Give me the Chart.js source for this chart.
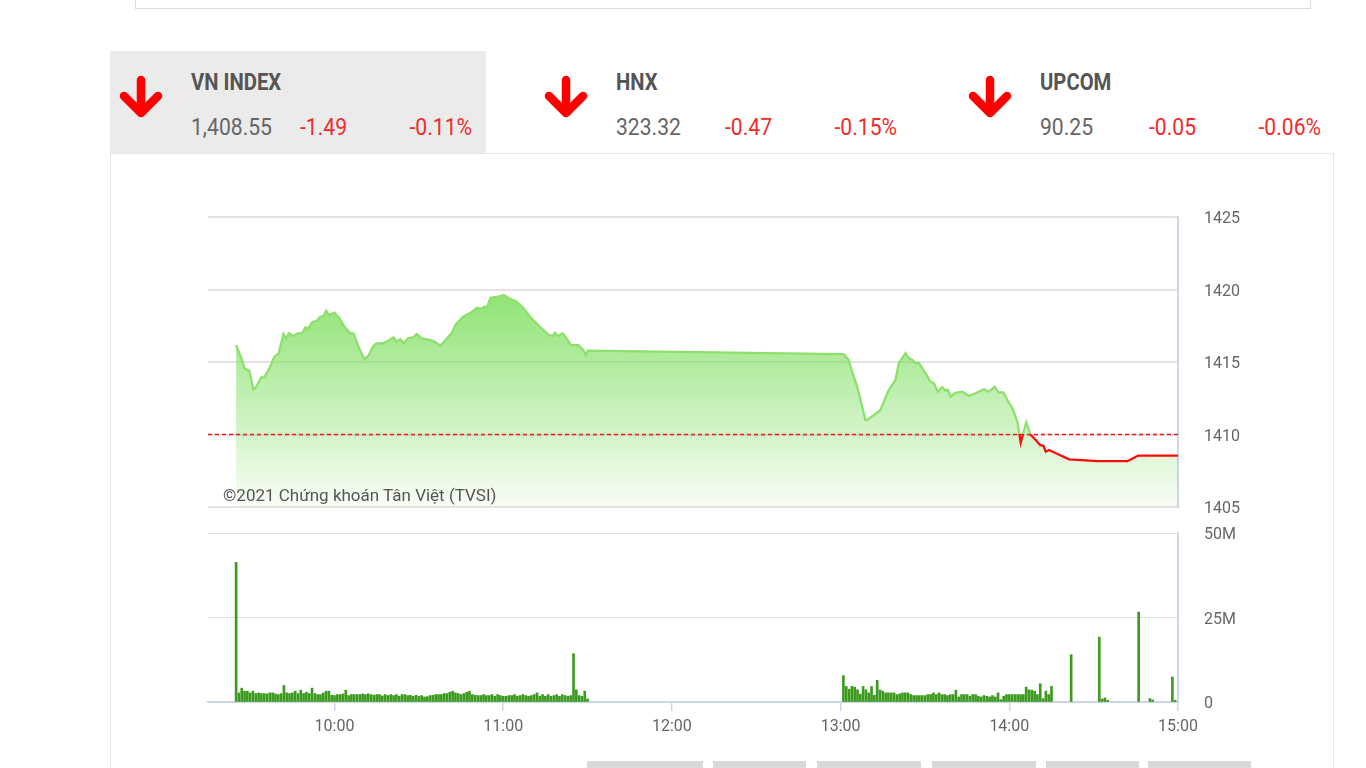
<!DOCTYPE html>
<html lang="vi">
<head>
<meta charset="utf-8">
<title>VN INDEX</title>
<script src="https://cdn.jsdelivr.net/npm/chart.js@4.4.1/dist/chart.umd.min.js"></script>
<style>
  html, body { margin: 0; padding: 0; background: #fff; }
  body { width: 1366px; height: 768px; overflow: hidden; position: relative; font-family: Roboto, "Noto Sans", sans-serif; }
  .topbar { position: absolute; left: 135px; top: -2px; width: 1174px; height: 10px; border: 1px solid #dcdcdc; border-top: none; }
  .tab { position: absolute; top: 51px; width: 376px; height: 102px; }
  .tab.active { background: #ebebeb; }
  .tab svg { position: absolute; left: 9px; top: 23px; }
  .tab span { position: absolute; white-space: nowrap; height: 28px; line-height: 28px; transform: scaleX(0.88); transform-origin: left center; }
  .tab .name { left: 81px; top: 18px; font-size: 23px; font-weight: 700; color: #555; }
  .tab .val { left: 81px; top: 62px; font-size: 24px; color: #666; }
  .tab .chg { left: 190px; top: 62px; font-size: 24px; color: #ef2b2b; }
  .tab .pct { right: 14px; top: 62px; font-size: 24px; color: #ef2b2b; transform-origin: right center; }
  .card { position: absolute; left: 110px; top: 153px; width: 1224px; height: 640px; border: 1px solid #e6e6e6; box-sizing: border-box; }
  canvas { position: absolute; left: 0; }
  #priceChart { top: 200px; }
  #volChart { top: 520px; }
  .credit { position: absolute; left: 223px; top: 484px; font-size: 17px; line-height: 22px; color: #555; }
  .btn { position: absolute; top: 761px; height: 10px; background: #d9d9d9; }
</style>
</head>
<body>
<div class="topbar"></div>
<div id="tabs"></div>
<div class="card"></div>
<canvas id="priceChart" width="1366" height="320"></canvas>
<canvas id="volChart" width="1366" height="220"></canvas>
<div class="credit">©2021 Chứng khoán Tân Việt (TVSI)</div>
<div class="btn" style="left:587px;width:116px"></div>
<div class="btn" style="left:713px;width:93px"></div>
<div class="btn" style="left:817px;width:104px"></div>
<div class="btn" style="left:932px;width:104px"></div>
<div class="btn" style="left:1046px;width:93px"></div>
<div class="btn" style="left:1148px;width:103px"></div>
<script>
// index summary
const indexNames = ['VN INDEX', 'HNX', 'UPCOM'];
const indexValues = ['1,408.55', '323.32', '90.25'];
const indexChanges = ['-1.49', '-0.47', '-0.05'];
const indexPercents = ['-0.11%', '-0.15%', '-0.06%'];

// price line (VN INDEX intraday)
const refLevel = 1410;
const priceTimes = [
  '09:25:00','09:27:20','09:27:56','09:29:43','09:31:08','09:32:06','09:33:53','09:35:04','09:36:50','09:38:37',
  '09:40:09','09:41:50','09:42:47','09:43:43','09:45:23','09:46:55','09:48:29','09:49:40','09:50:29','09:52:03',
  '09:53:41','09:54:54','09:56:05','09:57:03','09:57:58','10:00:00','10:01:47','10:03:34','10:05:36','10:06:46',
  '10:08:18','10:09:52','10:10:41','10:12:13','10:13:39','10:14:52','10:17:13','10:18:59','10:21:01','10:21:59',
  '10:23:25','10:24:35','10:26:07','10:27:54','10:29:19','10:30:53','10:33:51','10:35:38','10:37:40','10:39:11',
  '10:41:35','10:43:07','10:45:43','10:48:43','10:50:42','10:51:40','10:53:26','10:54:03','10:55:28','10:58:11',
  '11:00:13','11:01:45','11:04:44','11:07:05','11:10:05','11:13:02','11:16:00','11:17:34','11:18:23','11:19:34',
  '11:21:08','11:22:33','11:24:05','11:26:41','11:28:28','11:29:19','11:30:00',
  '13:00:00','13:01:06','13:02:53','13:04:06','13:05:53','13:07:40','13:08:50','13:09:26','13:11:47','13:14:11',
  '13:15:22','13:17:08','13:19:31','13:20:42','13:21:55','13:23:05','13:23:55','13:25:28','13:26:39','13:27:49',
  '13:29:02','13:30:13','13:31:59','13:33:10','13:34:35','13:36:10','13:37:20','13:38:10','13:39:07','13:40:54',
  '13:43:17','13:45:38','13:47:25','13:50:59','13:52:46','13:54:48','13:56:07','13:57:53','13:59:19','14:01:06',
  '14:02:53','14:04:04','14:06:01','14:07:37','14:09:24','14:10:56','14:12:09','14:12:58','14:14:08','14:17:08',
  '14:21:16','14:31:23','14:42:05','14:45:51','15:00:00'
];
const priceValues = [
  1416.17,1415.02,1414.57,1414.40,1413.12,1413.26,1413.94,1413.94,1414.57,1415.37,
  1415.60,1416.93,1416.63,1416.98,1416.79,1416.98,1416.98,1417.39,1417.26,1417.74,
  1417.85,1418.12,1418.17,1418.54,1418.24,1418.40,1418.01,1417.43,1416.98,1416.98,
  1416.17,1415.48,1415.19,1415.48,1416.06,1416.29,1416.29,1416.45,1416.70,1416.40,
  1416.57,1416.29,1416.63,1416.70,1416.93,1416.63,1416.52,1416.40,1416.12,1416.45,
  1416.98,1417.60,1418.12,1418.43,1418.74,1418.66,1418.81,1418.66,1419.43,1419.50,
  1419.62,1419.43,1419.16,1418.74,1418.01,1417.43,1416.91,1416.79,1417.02,1416.79,
  1416.98,1416.63,1416.17,1416.17,1415.83,1415.48,1415.78,
  1415.55,1415.55,1415.14,1414.33,1413.30,1411.92,1411.00,1411.00,1411.34,1411.69,
  1412.26,1413.07,1413.76,1414.91,1415.26,1415.60,1415.32,1415.14,1414.91,1414.95,
  1414.57,1414.22,1413.64,1413.53,1412.95,1413.26,1413.02,1413.07,1412.61,1412.88,
  1412.95,1412.66,1412.79,1413.12,1412.95,1413.30,1412.91,1412.91,1412.38,1411.81,
  1410.88,1409.43,1410.84,1409.97,1409.62,1409.28,1409.21,1408.81,1408.93,1408.66,
  1408.29,1408.17,1408.17,1408.55,1408.55
];

// volume, millions of shares per minute
const volMorningStart = '09:25';
const volMorning = [
  41.3,2.7,4.1,3.2,3.2,2.7,3.2,2.5,2.7,2.5,
  2.5,2.4,2.7,2.7,2.4,2.2,2.5,4.9,2.7,2.5,
  2.7,3.2,2.5,3.5,2.5,2.9,2.5,4.1,2.5,2.2,
  2.2,2.7,3.2,3.2,2.0,1.9,2.2,2.2,2.4,3.5,
  1.9,2.2,2.2,2.2,2.2,2.4,2.2,2.4,2.2,2.0,
  2.2,2.2,1.8,2.2,1.9,2.2,1.9,2.2,1.7,2.2,
  2.2,1.9,2.0,1.7,2.0,1.7,1.9,1.5,1.6,1.9,
  2.0,2.2,2.2,2.2,2.5,2.5,2.9,3.2,2.7,2.5,
  2.2,2.5,2.9,3.2,2.2,2.0,1.9,1.9,2.2,1.9,
  1.9,2.2,1.7,2.2,1.9,1.7,1.7,1.9,1.9,2.2,
  1.7,1.9,2.2,1.9,1.7,1.9,2.2,2.7,1.7,2.2,
  1.7,2.2,1.7,1.9,2.2,1.7,2.2,1.9,1.7,1.9,
  14.3,3.6,1.9,1.7,3.2,0.9
];
const volAfternoonStart = '13:01';
const volAfternoon = [
  7.8,4.6,3.8,4.6,4.4,3.6,2.3,4.6,3.6,2.7,
  4.6,2.0,6.4,3.6,3.2,2.7,2.7,2.7,2.7,2.2,
  2.4,2.7,2.7,2.7,2.2,1.9,1.9,1.9,1.9,1.9,
  2.2,2.2,2.7,2.2,2.7,2.2,2.2,1.9,2.2,2.2,
  3.5,1.5,2.2,2.2,2.2,1.7,2.2,2.2,1.7,1.5,
  1.9,1.7,1.5,1.9,1.5,2.7,0.7,1.7,2.2,2.2,
  2.2,2.2,2.2,2.2,2.2,4.4,3.6,3.5,3.2,2.2,
  5.4,1.0,3.2,2.2,4.6
];
const volLateTimes = ['14:22','14:32','14:33','14:34','14:35','14:46','14:50','14:51','14:58','14:59'];
const volLateValues = [14.0, 19.2, 0.9, 1.2, 0.5, 26.6, 1.0, 0.6, 7.4, 0.5];

// axes
const xStart = '09:15';
const xEnd = '15:00';
const xTickLabels = ['10:00', '11:00', '12:00', '13:00', '14:00', '15:00'];
const priceTicks = [1405, 1410, 1415, 1420, 1425];
const volTicks = [0, 25, 50];

const upColor = '#8de06b';
const downColor = '#ff0a0a';
const volColor = '#3c9a1e';

const toMin = s => {
  const p = s.split(':').map(Number);
  return p[0] * 60 + p[1] + (p[2] || 0) / 60;
};
const xMin = toMin(xStart);
const xMax = toMin(xEnd);
const xTicks = xTickLabels.map(toMin);

// header tabs
const tabs = document.getElementById('tabs');
indexNames.forEach((name, i) => {
  const d = document.createElement('div');
  d.className = 'tab' + (i === 0 ? ' active' : '');
  d.style.left = Math.round(110 + i * 424.5) + 'px';
  d.innerHTML = `
    <svg width="48" height="48" viewBox="0 0 48 48"><g fill="none" stroke="#f00" stroke-width="8.5" stroke-linecap="round" stroke-linejoin="round">
      <path d="M22 6 L22 38"/><path d="M5 22 L22 39 L39 22"/></g></svg>
    <span class="name">${name}</span>
    <span class="val">${indexValues[i]}</span>
    <span class="chg">${indexChanges[i]}</span>
    <span class="pct">${indexPercents[i]}</span>`;
  tabs.appendChild(d);
});

const font = { family: 'Roboto', size: 16 };
const pricePoints = priceTimes.map((t, i) => ({ x: toMin(t), y: priceValues[i] }));

function lineColor(ctx) {
  const chart = ctx.chart;
  const area = chart.chartArea;
  if (!area || !chart.scales.y) return upColor;
  const yRef = chart.scales.y.getPixelForValue(refLevel);
  const r = Math.min(Math.max((yRef - area.top) / (area.bottom - area.top), 0), 1);
  const g = chart.ctx.createLinearGradient(0, area.top, 0, area.bottom);
  g.addColorStop(0, upColor);
  g.addColorStop(r, upColor);
  g.addColorStop(r, downColor);
  g.addColorStop(1, downColor);
  return g;
}

function areaFill(ctx) {
  const chart = ctx.chart;
  const area = chart.chartArea;
  if (!area) return 'rgba(130,225,100,0.5)';
  const g = chart.ctx.createLinearGradient(0, area.top, 0, area.bottom);
  g.addColorStop(0, 'rgba(122,222,90,0.95)');
  g.addColorStop(0.3, 'rgba(122,222,90,0.8)');
  g.addColorStop(1, 'rgba(122,222,90,0.05)');
  return g;
}

// right-hand value axis: labels pushed out with an invisible tick mark
const rightAxis = (ticks, fmt) => ({
  position: 'right',
  min: ticks[0],
  max: ticks[ticks.length - 1],
  afterFit: s => { s.width = 160; },
  afterBuildTicks: s => { s.ticks = ticks.map(v => ({ value: v })); },
  ticks: { padding: 0, labelOffset: 2, color: '#666', font, callback: fmt },
  border: { display: true, color: '#ccd6eb', width: 2 }
});

// Price chart
const priceY = rightAxis(priceTicks, v => String(v));
priceY.grid = { color: '#e3e3e3', lineWidth: 2, tickLength: 26, tickColor: 'rgba(0,0,0,0)' };

new Chart(document.getElementById('priceChart'), {
  type: 'line',
  data: {
    datasets: [
      {
        data: pricePoints,
        borderColor: lineColor,
        backgroundColor: areaFill,
        borderWidth: 2.3,
        fill: 'start',
        pointRadius: 0,
        tension: 0,
        order: 0
      },
      {
        data: [{ x: xMin, y: refLevel }, { x: xMax, y: refLevel }],
        borderColor: '#f01818',
        borderWidth: 1.5,
        borderDash: [4, 3],
        pointRadius: 0,
        fill: false,
        order: 1
      }
    ]
  },
  options: {
    responsive: false,
    animation: false,
    layout: { padding: { left: 208, top: 17, right: 28, bottom: 13 } },
    plugins: {
      legend: { display: false },
      tooltip: { enabled: false },
      filler: { drawTime: 'beforeDatasetsDraw' }
    },
    scales: {
      x: { type: 'linear', min: xMin, max: xMax, display: false },
      y: priceY
    }
  }
});

// Volume chart
const volPoints = [
  ...volMorning.map((v, i) => ({ x: toMin(volMorningStart) + i, y: v })),
  ...volAfternoon.map((v, i) => ({ x: toMin(volAfternoonStart) + i, y: v })),
  ...volLateTimes.map((t, i) => ({ x: toMin(t), y: volLateValues[i] }))
];

const volY = rightAxis(volTicks, v => (v === 0 ? '0' : v + 'M'));
volY.grid = { color: '#e0e0e0', lineWidth: 1, tickLength: 26, tickColor: 'rgba(0,0,0,0)' };

new Chart(document.getElementById('volChart'), {
  type: 'bar',
  data: {
    datasets: [{ data: volPoints, backgroundColor: volColor, barThickness: 2 }]
  },
  options: {
    responsive: false,
    animation: false,
    layout: { padding: { left: 208, top: 13, right: 28, bottom: 6 } },
    plugins: { legend: { display: false }, tooltip: { enabled: false } },
    scales: {
      x: {
        type: 'linear',
        min: xMin,
        max: xMax,
        offset: false,
        afterBuildTicks: s => { s.ticks = xTicks.map(v => ({ value: v })); },
        afterFit: s => { s.height = 32; },
        ticks: { callback: (v, i) => xTickLabels[i], color: '#666', font, padding: 6, maxRotation: 0, autoSkip: false },
        grid: { offset: false, drawOnChartArea: false, tickLength: 9, color: '#ccd6eb', lineWidth: 1.5 },
        border: { color: '#ccd6eb', width: 2 }
      },
      y: volY
    }
  }
});
</script>
</body>
</html>
